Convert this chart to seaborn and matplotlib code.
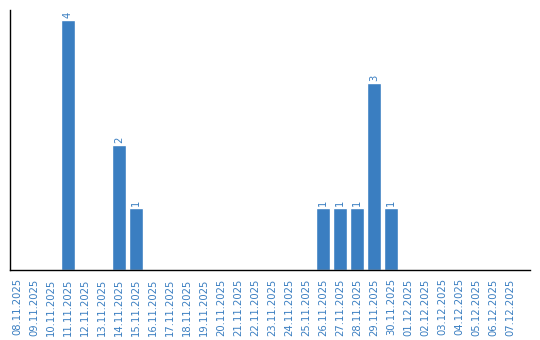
import matplotlib
matplotlib.use("Agg")
import matplotlib.pyplot as plt
import seaborn as sns
import pandas as pd

dates = ["08.11.2025","09.11.2025","10.11.2025","11.11.2025","12.11.2025","13.11.2025",
         "14.11.2025","15.11.2025","16.11.2025","17.11.2025","18.11.2025","19.11.2025",
         "20.11.2025","21.11.2025","22.11.2025","23.11.2025","24.11.2025","25.11.2025",
         "26.11.2025","27.11.2025","28.11.2025","29.11.2025","30.11.2025","01.12.2025",
         "02.12.2025","03.12.2025","04.12.2025","05.12.2025","06.12.2025","07.12.2025"]
counts = [0,0,0,4,0,0,2,1,0,0,0,0,0,0,0,0,0,0,1,1,1,3,1,0,0,0,0,0,0,0]

color = "#3a7ec1"
df = pd.DataFrame({"date": dates, "count": counts})

sns.set_style("white")
fig = plt.figure(figsize=(5.4, 3.4), dpi=100)
ax = fig.add_axes([10/540, 70/340, 520/540, 260/340])
sns.barplot(data=df, x="date", y="count", color=color, saturation=1, width=0.82, ax=ax)
ax.set_xlim(-0.41, 30.18)
ax.set_ylim(0, 4.16)
ax.set_xlabel("")
ax.set_ylabel("")
ax.set_yticks([])
ax.tick_params(axis="x", rotation=90, labelsize=7.2, labelcolor=color, length=0, pad=6)
for s in ["top", "right"]:
    ax.spines[s].set_visible(False)
for s in ["left", "bottom"]:
    ax.spines[s].set_color("black")
    ax.spines[s].set_linewidth(1)
for i, v in enumerate(counts):
    if v > 0:
        ax.text(i, v + 0.03, str(v), rotation=90, ha="center", va="bottom",
                fontsize=7.2, color=color)
fig.savefig("out.png", dpi=100)
